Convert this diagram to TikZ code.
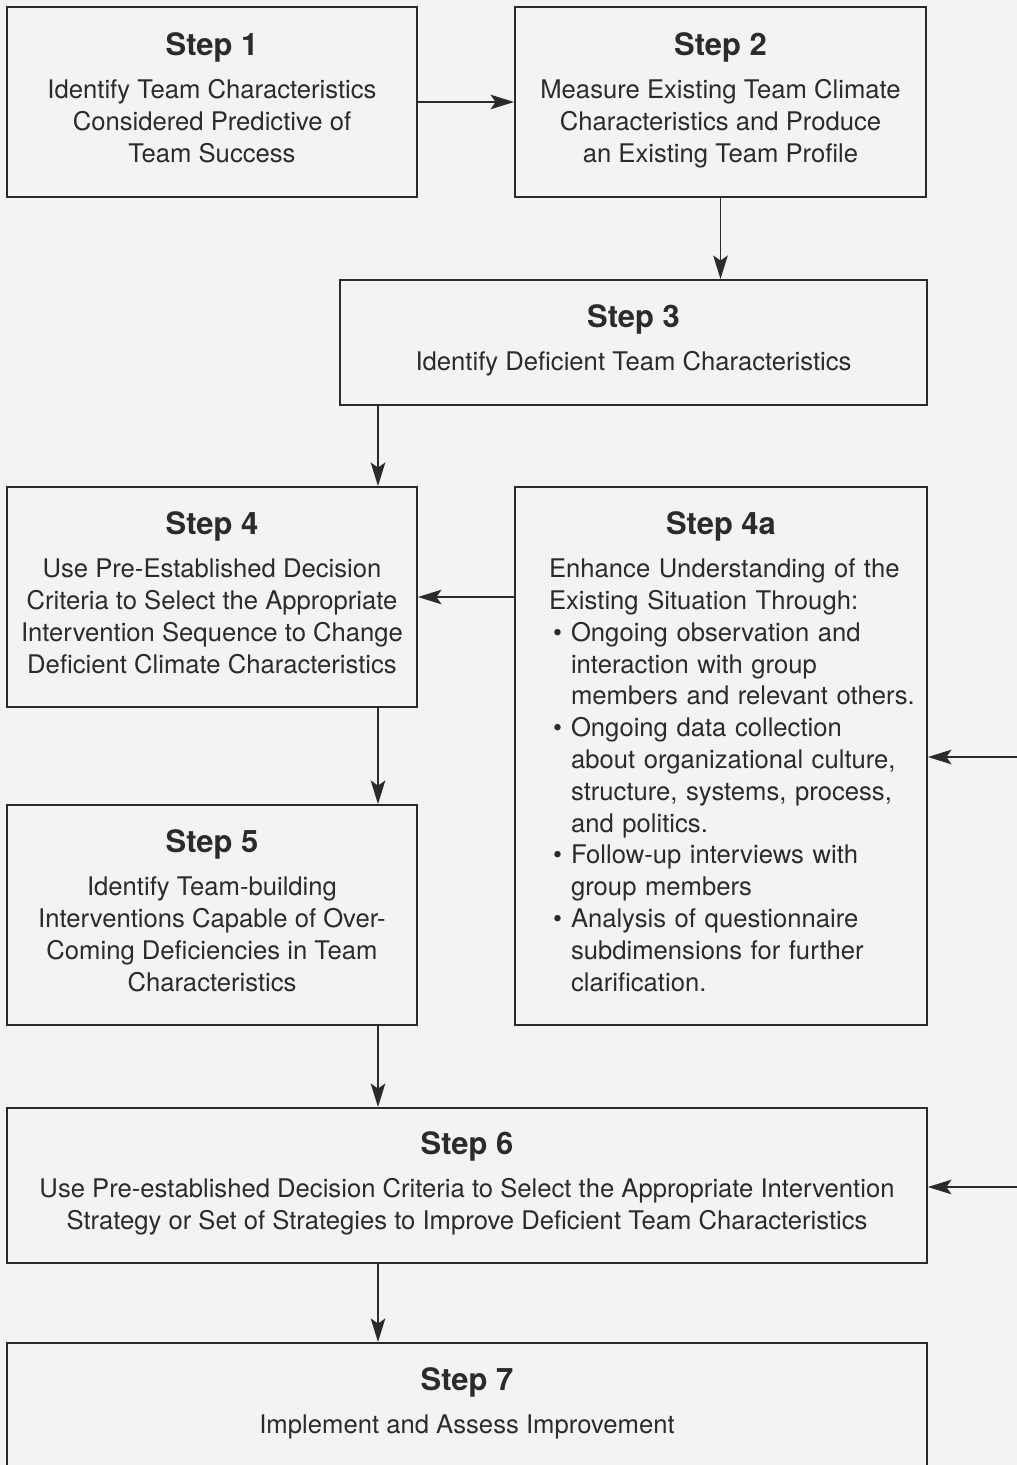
\documentclass[tikz,border=0pt]{standalone}
\usepackage{fontspec}
\setmainfont{TeX Gyre Heros}
\usetikzlibrary{arrows.meta}

\definecolor{paper}{HTML}{F3F3F3}
\definecolor{ink}{HTML}{2B2B2B}
\newcommand{\bodyfont}{\fontsize{14.6}{18.1}\selectfont}
\newcommand{\stephead}[1]{{\fontsize{17.6}{20}\selectfont\bfseries #1}\\[6.5pt]}
\newcommand{\bpoint}{\hspace*{0.08cm}\makebox[0.36cm][l]{\textbullet}}
\newcommand{\bcont}{\hspace*{0.44cm}}

\begin{document}
\begin{tikzpicture}[x=0.02cm,y=-0.02cm,
    stepbox/.style={draw=ink, line width=1.1pt, align=center, font=\bodyfont, text=ink, inner sep=2pt,
      execute at end node=\strut},
    flow/.style={draw=ink, line width=1.1pt, -{Stealth[length=0.47cm,width=0.29cm,inset=0.1cm]}}]
  % Bakgrund
  \clip (0,0) rectangle (1017,1465);
  \fill[paper] (0,0) rectangle (1017,1465);
  % Steg
  \node[stepbox, minimum width=8.2cm, minimum height=3.8cm] (s1) at (212,102)
    {\stephead{Step 1}Identify Team Characteristics\\Considered Predictive of\\Team Success};
  \node[stepbox, minimum width=8.22cm, minimum height=3.8cm] (s2) at (720.5,102)
    {\stephead{Step 2}Measure Existing Team Climate\\Characteristics and Produce\\an Existing Team Profile};
  \node[stepbox, minimum width=11.74cm, minimum height=2.5cm] (s3) at (633.5,342.5)
    {\stephead{Step 3}Identify Deficient Team Characteristics};
  \node[stepbox, minimum width=8.2cm, minimum height=4.4cm] (s4) at (212,597)
    {\stephead{Step 4}Use Pre-Established Decision\\Criteria to Select the Appropriate\\Intervention Sequence to Change\\Deficient Climate Characteristics};
  \node[stepbox, align=left, text width=6.88cm, minimum width=8.24cm, minimum height=10.76cm] (s4a) at (721,756)
    {\makebox[\linewidth]{\fontsize{17.6}{20}\selectfont\bfseries Step 4a}\\[6.5pt]
     \mbox{Enhance Understanding of the}\\
     \mbox{Existing Situation Through:}\\
     \bpoint\mbox{Ongoing observation and}\\
     \bcont\mbox{interaction with group}\\
     \bcont\mbox{members and relevant others.}\\
     \bpoint\mbox{Ongoing data collection}\\
     \bcont\mbox{about organizational culture,}\\
     \bcont\mbox{structure, systems, process,}\\
     \bcont\mbox{and politics.}\\
     \bpoint\mbox{Follow-up interviews with}\\
     \bcont\mbox{group members}\\
     \bpoint\mbox{Analysis of questionnaire}\\
     \bcont\mbox{subdimensions for further}\\
     \bcont\mbox{clarification.}};
  \node[stepbox, minimum width=8.2cm, minimum height=4.4cm] (s5) at (212,915)
    {\stephead{Step 5}Identify Team-building\\Interventions Capable of Over-\\Coming Deficiencies in Team\\Characteristics};
  \node[stepbox, minimum width=18.4cm, minimum height=3.1cm] (s6) at (467,1185.5)
    {\stephead{Step 6}Use Pre-established Decision Criteria to Select the Appropriate Intervention\\Strategy or Set of Strategies to Improve Deficient Team Characteristics};
  \node[stepbox, anchor=north, minimum width=18.4cm, minimum height=3.6cm] (s7) at (467,1342) {};
  \node[stepbox, draw=none] (s7text) at (467,1405)
    {\stephead{Step 7}Implement and Assess Improvement};
  % Pilar
  \coordinate (col) at (378,0);
  \coordinate (in4a) at (1017,757);
  \coordinate (in6) at (1017,1187);
  \draw[flow] (s1) -- (s2);
  \draw[flow] (s2) -- (s3.north -| s2);
  \draw[flow] (s3.south -| col) -- (s4.north -| col);
  \draw[flow] (s4a.west |- s4.east) -- (s4.east);
  \draw[flow] (s4.south -| col) -- (s5.north -| col);
  \draw[flow] (s5.south -| col) -- (s6.north -| col);
  \draw[flow] (s6.south -| col) -- (s7.north -| col);
  \draw[flow] (in4a) -- (in4a -| s4a.east);
  \draw[flow] (in6) -- (in6 -| s6.east);
\end{tikzpicture}
\end{document}
